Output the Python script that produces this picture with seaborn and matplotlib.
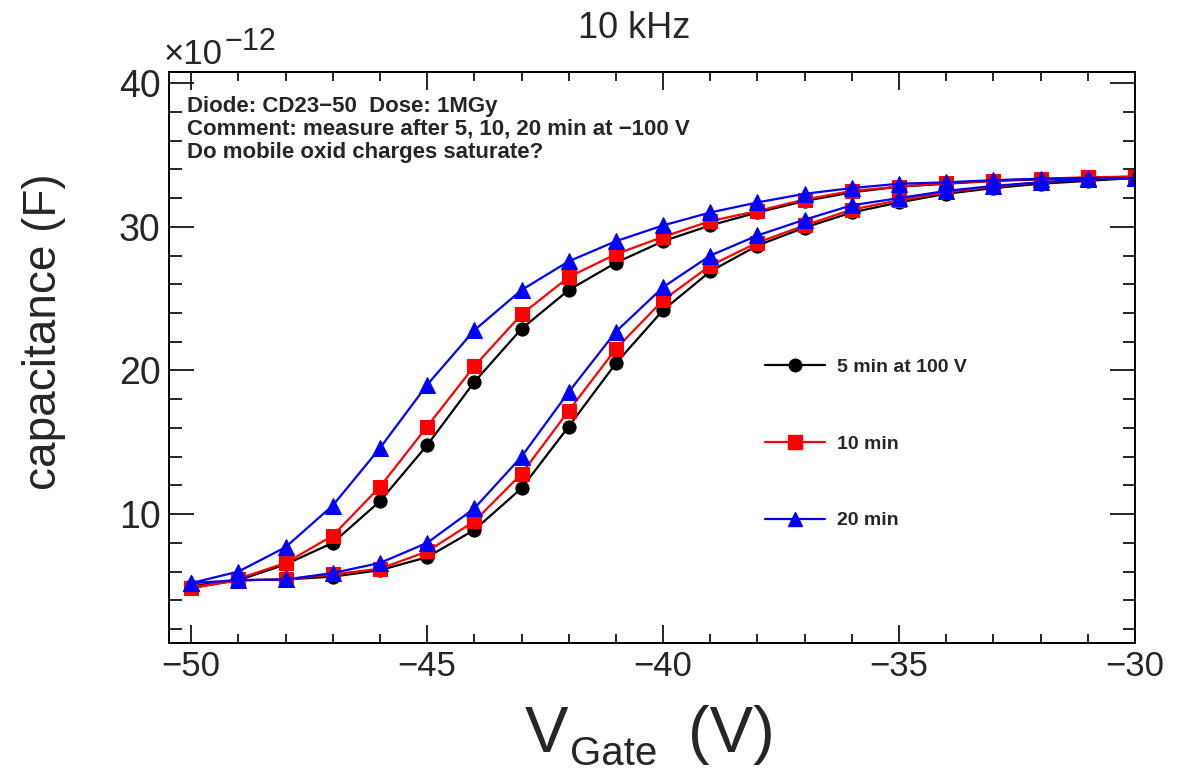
import numpy as np
import pandas as pd
import matplotlib
matplotlib.use("Agg")
import matplotlib.pyplot as plt
from matplotlib.lines import Line2D
from matplotlib.ticker import MultipleLocator, FuncFormatter
import seaborn as sns

# ---------------- data (capacitance in units of 1e-12 F) ----------------
v_up = [-50, -49, -48, -47, -46, -45, -44, -43, -42, -41, -40,
        -39, -38, -37, -36, -35, -34, -33, -32, -31, -30]
v_down = v_up[::-1]

black_up = [5.0, 5.4, 5.45, 5.65, 6.1, 7.0, 8.9, 11.8, 16.1, 20.5, 24.2,
            26.9, 28.7, 29.95, 31.0, 31.7, 32.3, 32.7, 33.0, 33.2, 33.4]
black_down = [33.5, 33.4, 33.3, 33.2, 33.0, 32.8, 32.4, 31.8, 31.0, 30.1, 29.0,
              27.5, 25.6, 22.9, 19.2, 14.8, 10.9, 8.0, 6.5, 5.4, 4.9]

red_up = [4.85, 5.4, 5.45, 5.8, 6.2, 7.4, 9.5, 12.8, 17.2, 21.5, 24.9,
          27.3, 28.9, 30.1, 31.2, 31.85, 32.4, 32.8, 33.1, 33.3, 33.4]
red_down = [33.5, 33.45, 33.35, 33.2, 33.05, 32.8, 32.5, 31.9, 31.1, 30.4, 29.3,
            28.1, 26.5, 23.9, 20.3, 16.1, 11.9, 8.5, 6.6, 5.5, 4.85]

blue_up = [5.2, 5.4, 5.45, 5.9, 6.6, 8.0, 10.4, 14.0, 18.5, 22.7, 25.8,
           28.0, 29.4, 30.5, 31.5, 32.0, 32.5, 32.85, 33.1, 33.3, 33.4]
blue_down = [33.4, 33.4, 33.35, 33.25, 33.1, 33.0, 32.7, 32.3, 31.7, 31.0, 30.1,
             29.0, 27.6, 25.6, 22.8, 19.0, 14.6, 10.6, 7.7, 6.0, 5.2]

labels = ["5 min at 100 V", "10 min", "20 min"]
colors = ["black", "red", "blue"]
markers = ["o", "s", "^"]
msizes = [9.5, 10, 11]

title = "10 kHz"
info_lines = ["Diode: CD23\u221250  Dose: 1MGy",
              "Comment: measure after 5, 10, 20 min at \u2212100 V",
              "Do mobile oxid charges saturate?"]

# ---------------- style ----------------
sns.set_style("ticks")
plt.rcParams["font.family"] = ["Liberation Sans", "DejaVu Sans"]
plt.rcParams["axes.unicode_minus"] = True

W, H = 1178, 773
fig = plt.figure(figsize=(W / 100, H / 100), dpi=100)
fig.patch.set_facecolor("white")

def fx(px):
    return px / W

def fy(py):
    return 1 - py / H

ax_left, ax_right, ax_top, ax_bot = 169, 1135, 71.7, 642.7
ax = fig.add_axes([fx(ax_left), fy(ax_bot), fx(ax_right - ax_left), (ax_bot - ax_top) / H])
ax.set_facecolor("white")

series = [(black_up, black_down), (red_up, red_down), (blue_up, blue_down)]
for (up, down), lab, col, mk, ms in zip(series, labels, colors, markers, msizes):
    df = pd.DataFrame({
        "V": v_up + v_down,
        "C": up + down,
    })
    sns.lineplot(data=df, x="V", y="C", sort=False, ax=ax, color=col,
                 marker=mk, markersize=ms, markeredgecolor=col, markerfacecolor=col,
                 linewidth=1.6, legend=False, errorbar=None, estimator=None)

ax.set_xlim(-50.47, -30)
ax.set_ylim(1.05, 40.8)
ax.set_xlabel("")
ax.set_ylabel("")

ax.xaxis.set_major_locator(MultipleLocator(5))
ax.xaxis.set_minor_locator(MultipleLocator(1))
ax.yaxis.set_major_locator(MultipleLocator(10))
ax.yaxis.set_minor_locator(MultipleLocator(2))
ax.yaxis.set_major_formatter(FuncFormatter(lambda v, p: f"{v:.0f}"))

ax.tick_params(axis="both", which="both", direction="in", top=True, right=True,
               color="black", width=1.2)
ax.tick_params(axis="x", which="major", length=13, labelsize=25, pad=5)
ax.tick_params(axis="x", which="minor", length=6.5)
ax.tick_params(axis="y", which="major", length=18, labelsize=27, pad=6)
ax.tick_params(axis="y", which="minor", length=9)
for s in ax.spines.values():
    s.set_linewidth(1.4)
    s.set_color("black")
    s.set_visible(True)

# y label
fig.text(fx(44), fy(332), "capacitance (F)", rotation=90, ha="center", va="center",
         fontsize=33)

# x label pieces: V_Gate (V)
fig.text(fx(525), fy(752), "V", ha="left", va="baseline", fontsize=47)
fig.text(fx(570), fy(765), "Gate", ha="left", va="baseline", fontsize=29)
fig.text(fx(688), fy(752), "(V)", ha="left", va="baseline", fontsize=47)

# exponent
fig.text(fx(164), fy(64), "\u00d710", ha="left", va="baseline", fontsize=25)
fig.text(fx(224), fy(50), "\u221212", ha="left", va="baseline", fontsize=22)

# title
fig.text(fx(634.5), fy(38), title, ha="center", va="baseline", fontsize=26)

# info text
for i, line in enumerate(info_lines):
    fig.text(fx(187), fy(111.7 + 23.2 * i), line, ha="left", va="baseline",
             fontsize=16, fontweight="bold")

# legend
handles = [Line2D([0], [0], color=c, marker=m, markersize=s * 0.95, linewidth=1.6,
                  markeredgecolor=c, markerfacecolor=c)
           for c, m, s in zip(colors, markers, msizes)]
ax.legend(handles, labels, loc="upper left", bbox_to_anchor=(fx(765), fy(358)),
          bbox_transform=fig.transFigure, frameon=False, borderpad=0, borderaxespad=0,
          handlelength=3.1, handletextpad=0.6, labelspacing=3.05,
          prop={"size": 14, "weight": "bold"})

fig.savefig("out.png", dpi=100, facecolor="white")
